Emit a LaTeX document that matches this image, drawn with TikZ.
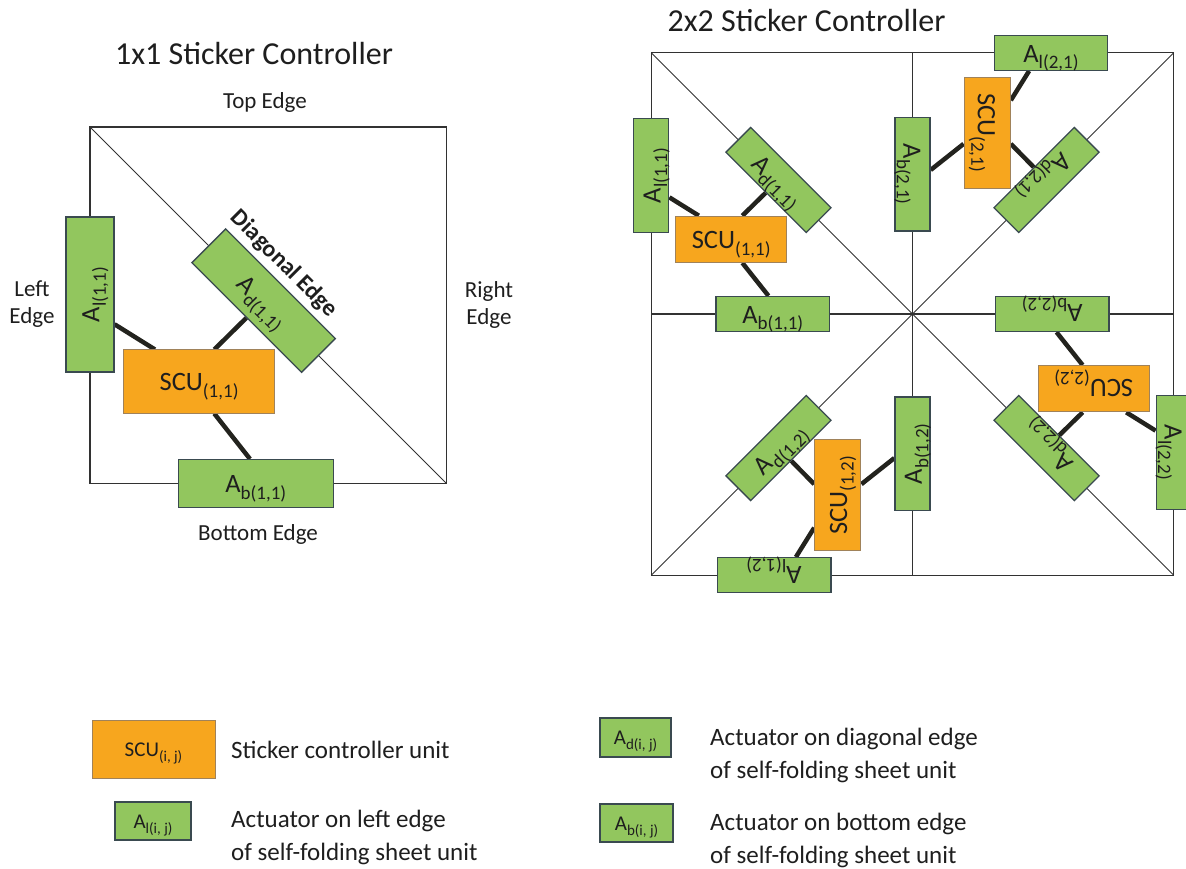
\documentclass[tikz,border=0pt]{standalone}
\usepackage{fontspec}
\setmainfont{Carlito}
\usetikzlibrary{calc}

\definecolor{scuorange}{RGB}{247,166,30}
\definecolor{actgreen}{RGB}{146,198,94}
\definecolor{actborder}{RGB}{58,74,80}
\definecolor{scuborder}{RGB}{160,130,90}
\definecolor{wire}{RGB}{35,35,30}
\definecolor{frame}{RGB}{50,50,50}
\definecolor{ink}{RGB}{30,30,30}

\pgfdeclarelayer{background}
\pgfsetlayers{background,main}

% subscripts for the unit labels
\newcommand{\subbig}[1]{\raisebox{-6.5pt}{\fontsize{19}{19}\selectfont #1}}
\newcommand{\subsmall}[1]{\raisebox{-5pt}{\fontsize{15}{15}\selectfont #1}}

\tikzset{
  unitbox/.style={draw, inner sep=0pt, text height=18.5pt, text depth=0pt,
    font=\fontsize{26.5}{26.5}\selectfont, text=ink},
  actbox/.style={unitbox, fill=actgreen, draw=actborder, line width=1.3pt},
  scubox/.style={unitbox, fill=scuorange, draw=scuborder, line width=1pt},
  wirelink/.style={draw=wire, line width=4.5pt},
  sheetframe/.style={draw=frame, line width=1.4pt},
  foldline/.style={draw=frame, line width=0.9pt},
  edgelabel/.style={font=\fontsize{23}{27}\selectfont, text=ink, align=center, inner sep=0pt},
  titletext/.style={font=\fontsize{32}{32}\selectfont, text=ink, inner sep=0pt, anchor=base},
  legendtext/.style={font=\fontsize{25}{32.5}\selectfont, text=ink, inner sep=0pt, align=left, anchor=base west},
  legact/.style={actbox, font=\fontsize{21}{21}\selectfont, text height=14pt},
  legscu/.style={scubox, font=\fontsize{21}{21}\selectfont, text height=14pt},
}

% one cell of the sheet: #1 name suffix, #2 corner where the diagonal ends,
% #3 side length, #4 turn of the cell, #5 cell index
\newcommand{\sheetcell}[5]{%
  \begin{scope}[shift={#2}, rotate=#4]
    \node[actbox, minimum width={0.435*#3}, minimum height={0.134*#3}, rotate={90+(#4)}]
      (al#1) at ({-#3}, {0.53*#3}) {A\subbig{l#5}};
    \node[actbox, minimum width={0.435*#3}, minimum height={0.134*#3}, rotate={-45+(#4)}]
      (ad#1) at ({-0.513*#3}, {0.513*#3}) {A\subbig{d#5}};
    \node[scubox, minimum width={0.424*#3}, minimum height={0.177*#3}, rotate={#4}]
      (scu#1) at ({-0.694*#3}, {0.286*#3}) {SCU\subbig{#5}};
    \node[actbox, minimum width={0.435*#3}, minimum height={0.134*#3}, rotate={#4}]
      (ab#1) at ({-0.535*#3}, 0) {A\subbig{b#5}};
  \end{scope}
  \begin{pgfonlayer}{background}
    \draw[wirelink] ($(al#1.south east)!0.69!(al#1.south west)$) -- ($(scu#1.north west)!0.21!(scu#1.north east)$);
    \draw[wirelink] (ad#1.south) -- ($(scu#1.north west)!0.6!(scu#1.north east)$);
    \draw[wirelink] ($(scu#1.south west)!0.6!(scu#1.south east)$) -- ($(ab#1.north west)!0.463!(ab#1.north east)$);
  \end{pgfonlayer}
}

\begin{document}
\begin{tikzpicture}[x=1pt, y=1pt]
  \useasboundingbox (0,0) rectangle (1186,-868);

  % ---------- 1x1 sheet ----------
  \begin{pgfonlayer}{background}
    \draw[sheetframe] (90,-127) rectangle (446.5,-483.5);
    \draw[foldline] (90,-127) -- (446.5,-483.5);
  \end{pgfonlayer}
  \sheetcell{L}{(446.5,-483.5)}{356.5}{0}{(1,1)}

  \node[titletext] (title1) at (254,-64) {1x1 Sticker Controller};
  \node[edgelabel, anchor=base] (topedge) at (265,-108) {Top Edge};
  \node[edgelabel, anchor=base] (bottomedge) at (258,-540) {Bottom Edge};
  \node[edgelabel] (leftedge) at (32,-304) {Left\\Edge};
  \node[edgelabel] (rightedge) at (489,-305) {Right\\Edge};
  \node[font=\bfseries\fontsize{24}{24}\selectfont, text=ink, rotate=-45, inner sep=0pt]
    (diagedge) at (284,-264) {Diagonal Edge};

  % ---------- 2x2 sheet ----------
  \begin{pgfonlayer}{background}
    \draw[sheetframe] (651.25,-52.75) rectangle (1173.75,-575.25);
    \draw[sheetframe] (912.5,-52.75) -- (912.5,-575.25);
    \draw[sheetframe] (651.25,-314) -- (1173.75,-314);
    \draw[foldline] (651.25,-52.75) -- (1173.75,-575.25);
    \draw[foldline] (1173.75,-52.75) -- (651.25,-575.25);
  \end{pgfonlayer}
  \sheetcell{A}{(912.5,-314)}{261.25}{0}{(1,1)}
  \sheetcell{B}{(912.5,-314)}{261.25}{-90}{(2,1)}
  \sheetcell{C}{(912.5,-314)}{261.25}{-180}{(2,2)}
  \sheetcell{D}{(912.5,-314)}{261.25}{-270}{(1,2)}

  \node[titletext] (title2) at (806.5,-31) {2x2 Sticker Controller};

  % ---------- legend ----------
  \node[legscu, minimum width=123, minimum height=58] (legscu) at (153.5,-749) {SCU\subsmall{(i, j)}};
  \node[legact, minimum width=76, minimum height=38] (legal) at (153,-821) {A\subsmall{l(i, j)}};
  \node[legact, minimum width=71, minimum height=39] (legad) at (635.5,-737.5) {A\subsmall{d(i, j)}};
  \node[legact, minimum width=73, minimum height=38] (legab) at (636.5,-823) {A\subsmall{b(i, j)}};

  % multi-line texts are anchored at the baseline of their last line
  \node[legendtext] (txtscu) at (231,-758) {Sticker controller unit};
  \node[legendtext] (txtal) at (231,-860) {Actuator on left edge\\of self-folding sheet unit};
  \node[legendtext] (txtad) at (710,-778) {Actuator on diagonal edge\\of self-folding sheet unit};
  \node[legendtext] (txtab) at (710,-863) {Actuator on bottom edge\\of self-folding sheet unit};
\end{tikzpicture}
\end{document}
